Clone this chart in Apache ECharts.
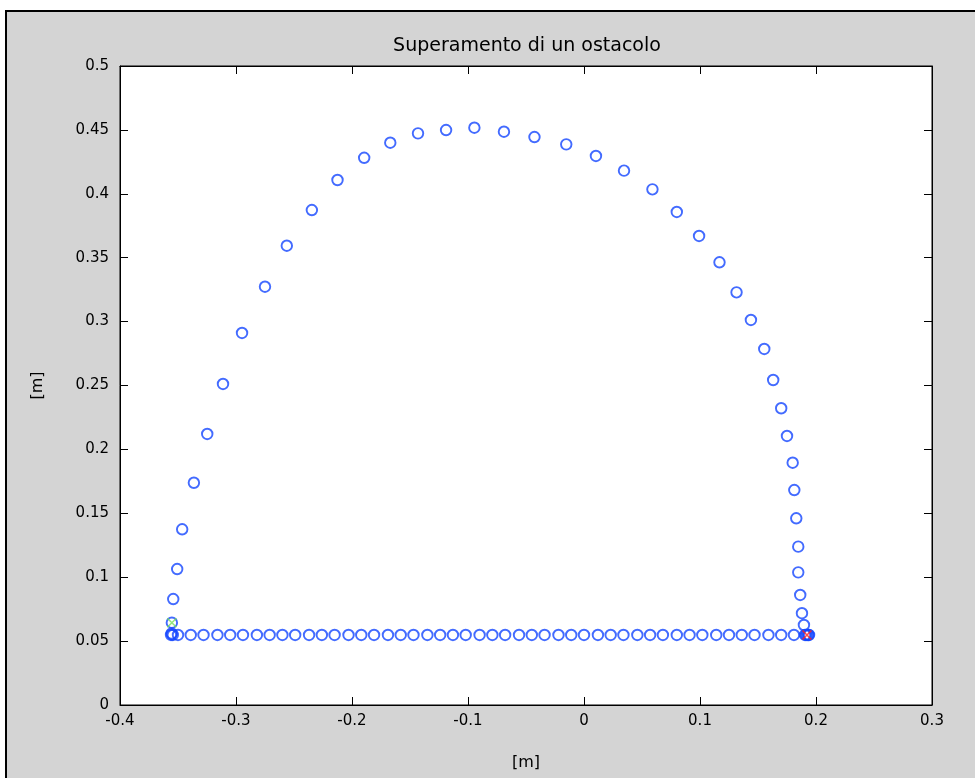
<!DOCTYPE html>
<html>
<head>
<meta charset="utf-8">
<script src="https://cdn.jsdelivr.net/npm/echarts@6/dist/echarts.min.js"></script>
<style>
  html, body { margin: 0; padding: 0; background: #ffffff; }
  #frame {
    position: absolute; left: 5px; top: 10px; width: 990px; height: 800px;
    background: #d4d4d4; border: 2px solid #000; box-sizing: border-box;
  }
  #chart { position: absolute; left: 0; top: 0; width: 975px; height: 778px; }
</style>
</head>
<body>
<div id="frame"></div>
<div id="chart"></div>
<script>
// Foot tip trajectory: swing arc over the obstacle (x, y in metres)
const arcX = [
  -0.3553, -0.3541, -0.3507, -0.3464, -0.3363, -0.3248, -0.3112, -0.2948,
  -0.2750, -0.2562, -0.2346, -0.2125, -0.1895, -0.1670, -0.1431, -0.1189,
  -0.0945, -0.0690, -0.0427, -0.0153, 0.0103, 0.0345, 0.0590, 0.0800,
  0.0992, 0.1168, 0.1315, 0.1439, 0.1554, 0.1631, 0.1700, 0.1750,
  0.1799, 0.1813, 0.1830, 0.1847, 0.1847, 0.1864, 0.1879, 0.1896, 0.1914
];
const arcY = [
  0.0644, 0.0829, 0.1064, 0.1375, 0.1739, 0.2121, 0.2512, 0.2911,
  0.3273, 0.3594, 0.3873, 0.4108, 0.4282, 0.4400, 0.4473, 0.4499,
  0.4517, 0.4486, 0.4444, 0.4387, 0.4296, 0.4181, 0.4035, 0.3858,
  0.3670, 0.3464, 0.3229, 0.3013, 0.2786, 0.2543, 0.2322, 0.2105,
  0.1896, 0.1682, 0.1461, 0.1239, 0.1038, 0.0861, 0.0718, 0.0626, 0.0548
];

// Stance phase: foot on the ground, moving back
const stanceX = [
  0.1940, 0.1935, 0.1925, 0.1905,
  0.181, 0.170, 0.159, 0.147, 0.136, 0.125, 0.114, 0.102, 0.091, 0.080,
  0.068, 0.057, 0.046, 0.034, 0.023, 0.012, 0.000, -0.011, -0.022, -0.034,
  -0.045, -0.056, -0.068, -0.079, -0.090, -0.102, -0.113, -0.124, -0.135,
  -0.147, -0.158, -0.169, -0.181, -0.192, -0.203, -0.215, -0.226, -0.237,
  -0.249, -0.260, -0.271, -0.282, -0.294, -0.305, -0.316, -0.328, -0.339,
  -0.350, -0.3545, -0.3555, -0.3560
];
const stanceY = [
  0.0548, 0.0548, 0.0548, 0.0548,
  0.0548, 0.0548, 0.0548, 0.0548, 0.0548, 0.0548, 0.0548, 0.0548, 0.0548, 0.0548,
  0.0548, 0.0548, 0.0548, 0.0548, 0.0548, 0.0548, 0.0548, 0.0548, 0.0548, 0.0548,
  0.0548, 0.0548, 0.0548, 0.0548, 0.0548, 0.0548, 0.0548, 0.0548, 0.0548,
  0.0548, 0.0548, 0.0548, 0.0548, 0.0548, 0.0548, 0.0548, 0.0548, 0.0548,
  0.0548, 0.0548, 0.0548, 0.0548, 0.0548, 0.0548, 0.0548, 0.0548, 0.0548,
  0.0548, 0.0548, 0.0560, 0.0548
];

// Start and end of the sequence
const startPoint = [-0.3553, 0.0644];
const endPoint = [0.1922, 0.0548];

const xTicks = { min: -0.4, max: 0.3, step: 0.1 };
const yTicks = { min: 0, max: 0.5, step: 0.05 };

const pts = [];
arcX.forEach((x, i) => pts.push([x, arcY[i]]));
stanceX.forEach((x, i) => pts.push([x, stanceY[i]]));

const FONT = 'DejaVu Sans';
const X_PATH = 'path://M0,0L10,10M10,0L0,10';

const axisCommon = {
  axisLine: { show: true, onZero: false, lineStyle: { color: '#000', width: 1 } },
  axisTick: { show: true, inside: true, length: 8, lineStyle: { color: '#000', width: 1 } },
  splitLine: { show: false }
};

const chart = echarts.init(document.getElementById('chart'), null, { renderer: 'canvas' });
chart.setOption({
  backgroundColor: 'transparent',
  animation: false,
  title: {
    text: 'Superamento di un ostacolo',
    left: 522, top: 32, textAlign: 'center',
    textStyle: { fontFamily: FONT, fontSize: 19, fontWeight: 'normal', color: '#000' }
  },
  grid: {
    left: 120, top: 66, width: 812, height: 639,
    show: true, backgroundColor: '#ffffff', borderColor: '#000', borderWidth: 1
  },
  xAxis: [
    Object.assign({
      type: 'value', position: 'bottom',
      min: xTicks.min, max: xTicks.max, interval: xTicks.step,
      name: '[m]', nameLocation: 'middle', nameGap: 50,
      nameTextStyle: { fontFamily: FONT, fontSize: 16, color: '#000' },
      axisLabel: { fontFamily: FONT, fontSize: 15, color: '#000', margin: 9 }
    }, axisCommon),
    Object.assign({
      type: 'value', position: 'top',
      min: xTicks.min, max: xTicks.max, interval: xTicks.step,
      axisLabel: { show: false }
    }, axisCommon)
  ],
  yAxis: [
    Object.assign({
      type: 'value', position: 'left',
      min: yTicks.min, max: yTicks.max, interval: yTicks.step,
      name: '[m]', nameLocation: 'middle', nameGap: 74, nameRotate: 90,
      nameTextStyle: { fontFamily: FONT, fontSize: 16, color: '#000' },
      axisLabel: { fontFamily: FONT, fontSize: 15, color: '#000', margin: 11 }
    }, axisCommon),
    Object.assign({
      type: 'value', position: 'right',
      min: yTicks.min, max: yTicks.max, interval: yTicks.step,
      axisLabel: { show: false }
    }, axisCommon)
  ],
  series: [
    {
      type: 'scatter', name: 'traiettoria', xAxisIndex: 0, yAxisIndex: 0,
      data: pts, symbol: 'circle', symbolSize: 10.5,
      itemStyle: { color: 'rgba(0,0,0,0)', borderColor: '#1446ff', borderWidth: 1.9 },
      z: 3
    },
    {
      type: 'scatter', name: 'inizio', data: [startPoint],
      symbol: X_PATH, symbolSize: 9,
      itemStyle: { color: 'rgba(0,0,0,0)', borderColor: '#77e05a', borderWidth: 1.6 },
      z: 4
    },
    {
      type: 'scatter', name: 'fine', data: [endPoint],
      symbol: X_PATH, symbolSize: 9,
      itemStyle: { color: 'rgba(0,0,0,0)', borderColor: '#ff2020', borderWidth: 1.6 },
      z: 5
    }
  ]
});
</script>
</body>
</html>
